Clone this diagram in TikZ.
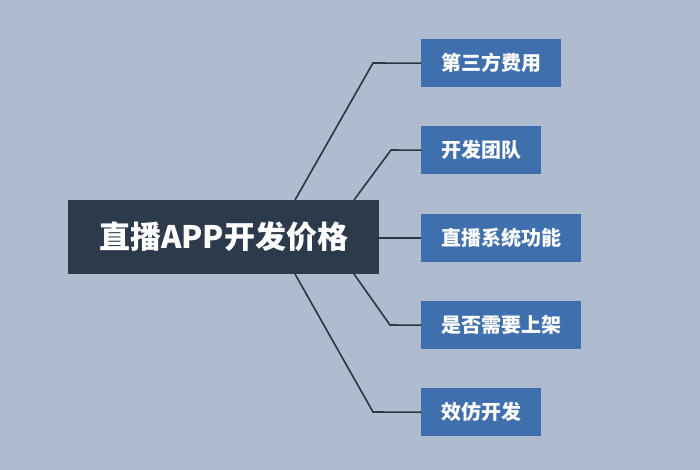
\documentclass[tikz,border=0pt]{standalone}
\usepackage{fontspec}
\newfontfamily\cjk{Noto Sans CJK SC}
\usetikzlibrary{positioning}

\definecolor{bgblue}{HTML}{AFBBCF}
\definecolor{rootdark}{HTML}{2D3A4B}
\definecolor{leafblue}{HTML}{3F6FAD}
\definecolor{linkdark}{HTML}{2A3547}

\tikzset{
  root/.style={fill=rootdark, text=white, font=\cjk\bfseries\fontsize{31}{31}\selectfont,
    minimum width=311pt, minimum height=74pt, inner sep=0pt, anchor=north west},
  leaf/.style={fill=leafblue, text=white, font=\cjk\bfseries\fontsize{20}{20}\selectfont,
    minimum height=48pt, inner xsep=20pt, inner ysep=0pt, anchor=north west},
  link/.style={draw=linkdark, line width=1.6pt}
}

\begin{document}
\begin{tikzpicture}[x=1pt,y=-1pt]
        % background
        \fill[bgblue] (0,0) rectangle (700,470);

        \node[root] (price) at (68,200) {直播APP开发价格};

        \node[leaf] (fee) at (421,39) {第三方费用};
        \node[leaf] (team) at (421,126) {开发团队};
        \node[leaf] (func) at (421,214) {直播系统功能};
        \node[leaf] (store) at (421,301) {是否需要上架};
        \node[leaf] (clone) at (421,388) {效仿开发};

        % elbows
        \coordinate (s1) at (295,200);
        \coordinate (k1) at (373,63);
        \coordinate (s2) at (354,200);
        \coordinate (k2) at (391,150);
        \coordinate (s4) at (354,274);
        \coordinate (k4) at (390,325);
        \coordinate (s5) at (295,274);
        \coordinate (k5) at (373,412);

        \draw[link] (s1) -- (k1) -- (fee.west);
        \draw[link] (s2) -- (k2) -- (team.west);
        \draw[link] (price.east |- func.west) -- (func.west);
        \draw[link] (s4) -- (k4) -- (store.west);
        \draw[link] (s5) -- (k5) -- (clone.west);
\end{tikzpicture}
\end{document}
